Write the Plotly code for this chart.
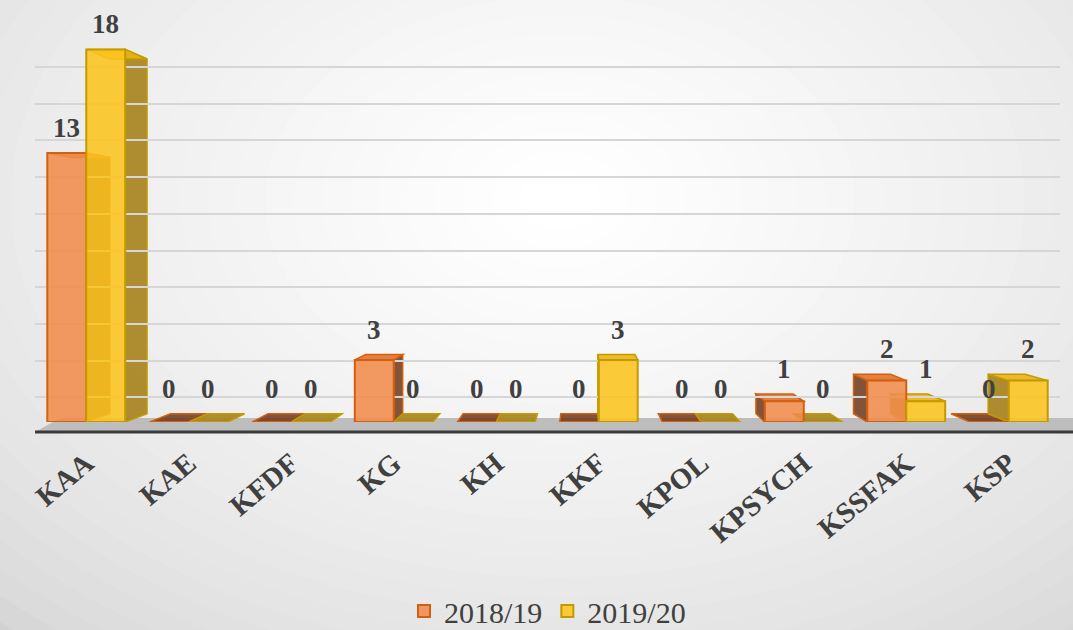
import plotly.graph_objects as go

categories = ["KAA", "KAE", "KFDF", "KG", "KH", "KKF", "KPOL", "KPSYCH", "KSSFAK", "KSP"]
s2018 = [13, 0, 0, 3, 0, 0, 0, 1, 2, 0]
s2019 = [18, 0, 0, 0, 0, 3, 0, 0, 1, 2]
series_names = ["2018/19", "2019/20"]
grid_vals = [2, 4, 6, 8, 10, 12, 14, 16, 18, 20]

W, H = 1073, 630
L, R, T, B = 35, 13, 8, 208
pw, ph = W - L - R, H - T - B
YMAX = 20
BARGAP = 0.24

def px2x(p):
    return (p - L) / pw

def py2y(p):
    return (H - B - p) / ph

font_fam = "Liberation Serif"
txt_col = "#404040"

front_fill = ["rgba(240,140,75,0.88)", "rgba(252,196,30,0.88)"]
edge_col = ["#D2600F", "#C49A00"]
side_fill = ["rgba(110,55,25,0.85)", "rgba(165,130,25,0.9)"]
top_fill = ["rgba(225,115,45,0.9)", "rgba(235,180,20,0.9)"]

fig = go.Figure()

# dummy trace for the back-wall grid axis
fig.add_trace(go.Scatter(x=[categories[0]], y=[None], yaxis="y", showlegend=False,
                         hoverinfo="skip", mode="markers"))

for s, (vals, name) in enumerate(zip([s2018, s2019], series_names)):
    fig.add_trace(go.Bar(
        x=categories, y=vals, name=name, yaxis="y2",
        marker=dict(color=front_fill[s], line=dict(color=edge_col[s], width=2)),
        cliponaxis=False, hoverinfo="x+y",
    ))

shapes = []
# radial background
N = 30
cx, cy = 560, 200
for i in range(N):
    f = i / (N - 1)
    rx = 820 * (1 - f) + 40
    ry = 560 * (1 - f) + 30
    g = int(210 + (255 - 210) * (f ** 0.6))
    shapes.append(dict(type="circle", xref="paper", yref="paper",
                       x0=px2x(cx - rx), x1=px2x(cx + rx),
                       y0=py2y(cy + ry), y1=py2y(cy - ry),
                       fillcolor=f"rgb({g},{g},{g})", line=dict(width=0), layer="below"))
# floor band
shapes.append(dict(type="path", xref="paper", yref="paper",
                   path=f"M {px2x(35)},{py2y(432)} L {px2x(60)},{py2y(418)} L {px2x(1073)},{py2y(418)} L {px2x(1073)},{py2y(432)} Z",
                   fillcolor="#bdbdbd", line=dict(width=0), layer="below"))
shapes.append(dict(type="line", xref="paper", yref="paper",
                   x0=px2x(35), x1=px2x(1073), y0=py2y(432), y1=py2y(432),
                   line=dict(color="#3a3a3a", width=3), layer="below"))

# pseudo-3D depth faces (perspective toward a vanishing point, data coords)
K = 0.048
VX = (580 - L) / (pw / len(categories)) - 0.5
VY = (H - B - 250) / (ph / YMAX)
gw = 1 - BARGAP
annotations = []

def back(x, y):
    return x + K * (VX - x), y + K * (VY - y)

def path(pts):
    return "M " + " L ".join(f"{x},{y}" for x, y in pts) + " Z"

for s, vals in enumerate([s2018, s2019]):
    for i, v in enumerate(vals):
        x0 = i - gw / 2 + s * gw / 2
        x1 = x0 + gw / 2
        # side face
        xs = x1 if x1 < VX else x0
        b_top = back(xs, v)
        b_bot = back(xs, 0)
        if v > 0:
            shapes.append(dict(type="path", xref="x", yref="y2", layer="below",
                               path=path([(xs, 0), (xs, v), b_top, b_bot]),
                               fillcolor=side_fill[s], line=dict(color=edge_col[s], width=1.5)))
        # top face
        t0 = back(x0, v)
        t1 = back(x1, v)
        shapes.append(dict(type="path", xref="x", yref="y2", layer="below",
                           path=path([(x0, v), (x1, v), t1, t0]),
                           fillcolor=top_fill[s] if v > 0 else side_fill[s],
                           line=dict(color=edge_col[s], width=1.5)))
        # value label
        xm = (x0 + x1) / 2
        lx, ly = back(xm, v)
        annotations.append(dict(x=xm, y=max(v, ly), xref="x", yref="y2",
                                text=f"<b>{v}</b>", showarrow=False, yanchor="bottom",
                                yshift=8, font=dict(family=font_fam, size=27, color=txt_col)))

fig.update_layout(shapes=shapes, annotations=annotations)

# grid axis: value g at pixel 434 - 18.35 g
g0 = (434 - (H - B)) / 18.35
g1 = (434 - T) / 18.35

fig.update_layout(
    width=W, height=H,
    margin=dict(l=L, r=R, t=T, b=B, autoexpand=False),
    paper_bgcolor="#d8d8d8",
    plot_bgcolor="rgba(0,0,0,0)",
    barmode="group", bargap=BARGAP, bargroupgap=0,
    font=dict(family=font_fam, color=txt_col),
    xaxis=dict(showgrid=False, showline=False, ticks="outside", ticklen=12,
               tickcolor="rgba(0,0,0,0)", tickangle=-40, automargin=False,
               tickfont=dict(family=font_fam, size=29, color=txt_col, weight="bold"),
               categoryorder="array", categoryarray=categories,
               range=[-0.5, len(categories) - 0.5]),
    yaxis=dict(range=[g0, g1], tickmode="array", tickvals=grid_vals, showticklabels=False,
               showgrid=True, gridcolor="#d6d6d6", gridwidth=2, zeroline=False, showline=False,
               automargin=False),
    yaxis2=dict(range=[0, YMAX], overlaying="y", showgrid=False, showticklabels=False,
                zeroline=False, showline=False),
    legend=dict(orientation="h", x=0.5, xanchor="center", y=py2y(611), yanchor="middle",
                font=dict(family=font_fam, size=30, color=txt_col),
                bgcolor="rgba(0,0,0,0)", itemwidth=30, tracegroupgap=0),
    showlegend=True,
)

fig.write_html("out.html", post_script="document.body.style.margin='0';",
               config={"displayModeBar": False})
